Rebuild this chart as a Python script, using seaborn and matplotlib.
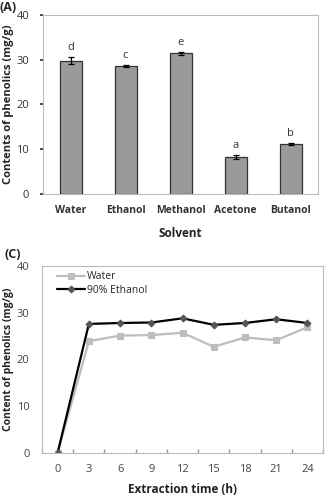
import matplotlib
matplotlib.use("Agg")
import matplotlib.pyplot as plt
import seaborn as sns
import pandas as pd
import numpy as np

# Panel A data
solvents = ["Water", "Ethanol", "Methanol", "Acetone", "Butanol"]
phenolics = [29.8, 28.6, 31.4, 8.3, 11.2]
errors = [0.8, 0.2, 0.3, 0.5, 0.2]
letters = ["d", "c", "e", "a", "b"]

# Panel C data
times = [0, 3, 6, 9, 12, 15, 18, 21, 24]
water = [0, 23.9, 25.1, 25.2, 25.7, 22.7, 24.7, 24.1, 26.9]
ethanol90 = [0, 27.6, 27.8, 27.9, 28.8, 27.4, 27.8, 28.6, 27.8]
y_ticks = [0, 10, 20, 30, 40]

sns.set_theme(style="white")
plt.rcParams['font.family'] = ['Open Sans', 'DejaVu Sans']

fig = plt.figure(figsize=(3.31, 4.96), dpi=100)
axA = fig.add_axes([0.130, 0.609, 0.831, 0.361])
axC = fig.add_axes([0.127, 0.0873, 0.849, 0.3763])

# ---- Panel A ----
dfA = pd.DataFrame({"Solvent": solvents, "Phenolics": phenolics})
sns.barplot(data=dfA, x="Solvent", y="Phenolics", ax=axA, color="#9a9a9a",
            edgecolor="#333333", linewidth=0.9, width=0.4, saturation=1, errorbar=None)
xs = np.arange(len(solvents))
axA.errorbar(xs, phenolics, yerr=errors, fmt="none", ecolor="black",
             elinewidth=0.9, capsize=2.5, capthick=0.9)
for x, v, e, l in zip(xs, phenolics, errors, letters):
    axA.text(x, v + e + 0.8, l, ha="center", va="bottom", fontsize=8, color="#333333")
axA.set_ylim(0, 40)
axA.set_xlim(-0.5, 4.5)
axA.set_yticks(y_ticks)
axA.tick_params(axis="y", labelsize=8, colors="#333333", length=2, direction="out", left=True, pad=8)
axA.tick_params(axis="x", labelsize=7.5, length=0, pad=8)
for lab in axA.get_xticklabels():
    lab.set_fontweight("bold")
    lab.set_color("#333333")
for s in axA.spines.values():
    s.set_color("#bbbbbb")
    s.set_linewidth(0.8)
axA.set_xlabel("Solvent", fontsize=8.5, fontweight="bold", labelpad=8, color="#222222")
axA.set_ylabel("Contents of phenolics (mg/g)", fontsize=8, fontweight="bold", color="#222222")
axA.yaxis.set_label_coords(-0.105, 0.5)
fig.text(0.0, 0.985, "(A)", fontsize=9, fontweight="bold", va="center", ha="left")

# ---- Panel C ----
dfC = pd.DataFrame({
    "time": times * 2,
    "value": water + ethanol90,
    "series": ["Water"] * len(times) + ["90% Ethanol"] * len(times),
})
sns.lineplot(data=dfC[dfC.series == "Water"], x="time", y="value", ax=axC,
             color="#bdbdbd", linewidth=1.6, marker="s", markersize=5,
             markeredgecolor="#bdbdbd", label="Water")
sns.lineplot(data=dfC[dfC.series == "90% Ethanol"], x="time", y="value", ax=axC,
             color="black", linewidth=1.6, marker="D", markersize=3.5,
             markerfacecolor="#555555", markeredgecolor="#555555", label="90% Ethanol")
axC.set_xlim(-1.5, 25.5)
axC.set_ylim(0, 40)
axC.set_xticks(times)
axC.set_xticks(np.arange(-1.5, 26, 3), minor=True)
axC.set_yticks(y_ticks)
axC.tick_params(axis="x", which="major", length=0, labelsize=8, colors="#444444", pad=8)
axC.tick_params(axis="x", which="minor", length=3, direction="in", bottom=True, color="#999999")
axC.tick_params(axis="y", labelsize=8, colors="#444444", length=0, pad=9)
for s in axC.spines.values():
    s.set_color("#bbbbbb")
    s.set_linewidth(0.8)
axC.set_xlabel("Extraction time (h)", fontsize=8.5, fontweight="bold", color="#222222")
axC.xaxis.set_label_coords(0.5, -0.165)
axC.set_ylabel("Content of phenolics (mg/g)", fontsize=7.5, fontweight="bold", color="#222222")
axC.yaxis.set_label_coords(-0.1, 0.5)
leg = axC.legend(loc="upper left", frameon=False, fontsize=7.5, handlelength=2.7,
                 bbox_to_anchor=(0.035, 1.0), borderaxespad=0.1, labelspacing=0.25, handletextpad=0.2)
fig.text(0.015, 0.487, "(C)", fontsize=9, fontweight="bold", va="center", ha="left")

fig.savefig("out.png", dpi=100)
